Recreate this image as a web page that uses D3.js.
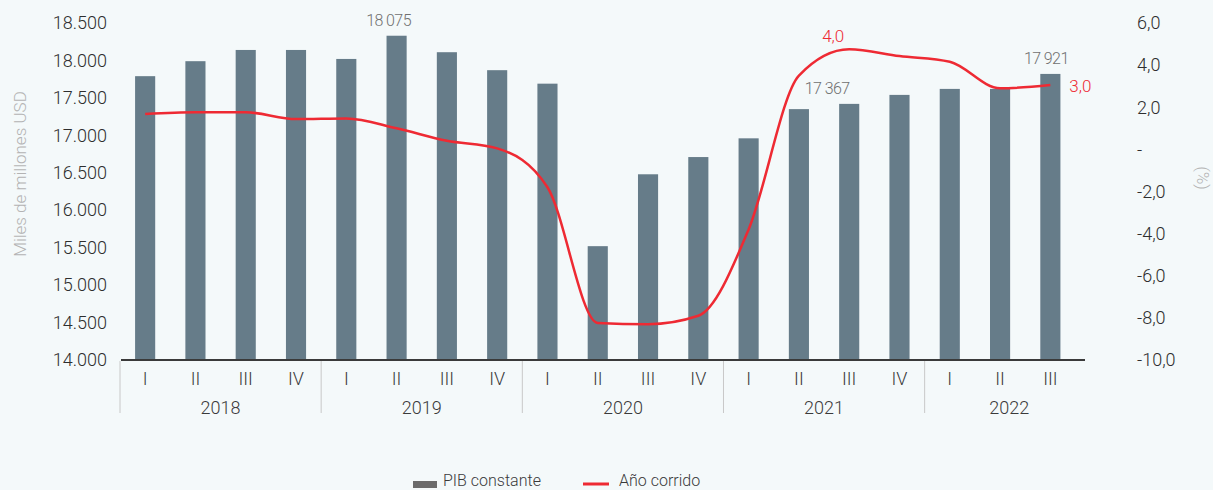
<!DOCTYPE html>
<html>
<head>
<meta charset="utf-8">
<script src="https://cdn.jsdelivr.net/npm/d3@7"></script>
<style>
  body { margin: 0; background: #f4f9fa; }
  svg { font-family: Roboto, "Liberation Sans", sans-serif; font-weight: 300; }
  .tick text { fill: #2e2e2e; font-size: 18px; }
  .axis-title { fill: #b3b3b3; font-size: 17px; }
  .cat { fill: #3a3a3a; font-size: 18px; }
  .bar-label { fill: #707070; font-size: 16px; letter-spacing: -0.6px; }
  .line-label { fill: #ee2a33; font-size: 17px; }
  .legend text { fill: #3a3a3a; font-size: 16px; }
</style>
</head>
<body>
<svg width="1213" height="490"></svg>
<script>
const years = ["2018", "2019", "2020", "2021", "2022"]
const quarters = ["I", "II", "III", "IV", "I", "II", "III", "IV", "I", "II", "III", "IV", "I", "II", "III", "IV", "I", "II", "III"]
const quarterYears = ["2018", "2018", "2018", "2018", "2019", "2019", "2019", "2019", "2020", "2020", "2020", "2020", "2021", "2021", "2021", "2021", "2022", "2022", "2022"]

// PIB constante, miles de millones USD
const pib = [17790, 17990, 18140, 18140, 18020, 18330, 18110, 17870, 17690, 15520, 16480, 16710, 16960, 17350, 17420, 17540, 17620, 17620, 17820]
// Año corrido, %
const anoCorrido = [1.68, 1.76, 1.76, 1.44, 1.47, 1.0, 0.41, 0.05, -1.8, -8.24, -8.3, -7.9, -3.8, 3.5, 4.75, 4.43, 4.16, 2.9, 3.06]

const leftTicks = [14000, 14500, 15000, 15500, 16000, 16500, 17000, 17500, 18000, 18500]
const rightTicks = [-10, -8, -6, -4, -2, 0, 2, 4, 6]

const barLabelIdx = [5, 14, 18]
const barLabelText = ["18 075", "17 367", "17 921"]
const lineLabelIdx = [14, 18]
const lineLabelText = ["4,0", "3,0"]

const svg = d3.select("svg")

const keys = quarters.map((q, i) => quarterYears[i] + "-" + q)

const x = d3.scaleBand()
    .domain(keys)
    .range([120, 1075.5])
    .paddingInner(0.6)
    .paddingOuter(0.3)

const yLeft = d3.scaleLinear()
    .domain([14000, 18500])
    .range([360, 23])

const yRight = d3.scaleLinear()
    .domain([-10, 6])
    .range([360, 23])

const cx = (i) => x(keys[i]) + x.bandwidth() / 2

// left axis
const leftAxis = svg.append("g")
    .attr("transform", "translate(107,0)")
    .call(d3.axisLeft(yLeft).tickValues(leftTicks).tickSize(0).tickPadding(0)
        .tickFormat(d => d3.format(",")(d).replace(",", ".")))
    .attr("font-family", null)
    .attr("font-size", null)
leftAxis.select(".domain").remove()

// right axis
const rightAxis = svg.append("g")
    .attr("transform", "translate(1137,0)")
    .call(d3.axisRight(yRight).tickValues(rightTicks).tickSize(0).tickPadding(0)
        .tickFormat(d => d === 0 ? "-" : d3.format(".1f")(d).replace(".", ",").replace("−", "-")))
    .attr("font-family", null)
    .attr("font-size", null)
rightAxis.select(".domain").remove()

svg.append("text")
    .attr("class", "axis-title")
    .attr("transform", "translate(26,174) rotate(-90)")
    .attr("text-anchor", "middle")
    .text("Miles de millones USD")

svg.append("text")
    .attr("class", "axis-title")
    .attr("transform", "translate(1197,178) rotate(90)")
    .attr("text-anchor", "middle")
    .text("(%)")

// bars
svg.selectAll("rect.bar")
    .data(pib)
    .enter()
    .append("rect")
    .attr("class", "bar")
    .attr("x", (d, i) => x(keys[i]))
    .attr("y", d => yLeft(d))
    .attr("width", x.bandwidth())
    .attr("height", d => yLeft(14000) - yLeft(d))
    .style("fill", "#667c89")

// category axis
const step = x.step()
svg.append("line")
    .attr("x1", 121).attr("x2", 1085)
    .attr("y1", yLeft(14000)).attr("y2", yLeft(14000))
    .style("stroke", "#3a3a3a")
    .style("stroke-width", 2)

svg.selectAll("text.quarter")
    .data(quarters)
    .enter()
    .append("text")
    .attr("class", "cat quarter")
    .attr("x", (d, i) => cx(i))
    .attr("y", 385)
    .attr("text-anchor", "middle")
    .text(d => d)

const yearBounds = years.map(yr => {
    const idx = keys.map((k, i) => i).filter(i => quarterYears[i] === yr)
    const left = cx(idx[0]) - step / 2
    const right = idx[idx.length - 1] === keys.length - 1 ? 1094 : cx(idx[idx.length - 1]) + step / 2
    return { yr, left, right }
})

svg.selectAll("line.sep")
    .data(yearBounds)
    .enter()
    .append("line")
    .attr("class", "sep")
    .attr("x1", d => d.left).attr("x2", d => d.left)
    .attr("y1", 361).attr("y2", 413)
    .style("stroke", "#c8c8c8")
    .style("stroke-width", 1)

svg.selectAll("text.year")
    .data(yearBounds)
    .enter()
    .append("text")
    .attr("class", "cat year")
    .attr("x", d => (d.left + d.right) / 2)
    .attr("y", 414)
    .attr("text-anchor", "middle")
    .text(d => d.yr)

// line
const lineGenerator = d3.line()
    .x((d, i) => cx(i))
    .y(d => yRight(d))
    .curve(d3.curveMonotoneX)

svg.append("path")
    .datum(anoCorrido)
    .attr("d", lineGenerator)
    .style("fill", "none")
    .style("stroke", "#ee2a33")
    .style("stroke-width", 2.5)

// data labels
const barNudge = [-8, -22, -4]
svg.selectAll("text.bar-label")
    .data(barLabelIdx)
    .enter()
    .append("text")
    .attr("class", "bar-label")
    .attr("x", (d, j) => cx(d) + barNudge[j])
    .attr("y", d => yLeft(pib[d]) - 10)
    .attr("text-anchor", "middle")
    .text((d, j) => barLabelText[j])

const lineNudge = [[-16, -7], [30, 7]]
svg.selectAll("text.line-label")
    .data(lineLabelIdx)
    .enter()
    .append("text")
    .attr("class", "line-label")
    .attr("x", (d, j) => cx(d) + lineNudge[j][0])
    .attr("y", (d, j) => yRight(anoCorrido[d]) + lineNudge[j][1])
    .attr("text-anchor", "middle")
    .text((d, j) => lineLabelText[j])

// legend
const legend = svg.append("g").attr("class", "legend")
legend.append("rect")
    .attr("x", 413).attr("y", 481)
    .attr("width", 24).attr("height", 7)
    .style("fill", "#6b6b6b")
legend.append("text")
    .attr("x", 443).attr("y", 486)
    .text("PIB constante")
legend.append("line")
    .attr("x1", 583).attr("x2", 609)
    .attr("y1", 484).attr("y2", 484)
    .style("stroke", "#ee2a33")
    .style("stroke-width", 3)
legend.append("text")
    .attr("x", 619).attr("y", 486)
    .text("Año corrido")
</script>
</body>
</html>
